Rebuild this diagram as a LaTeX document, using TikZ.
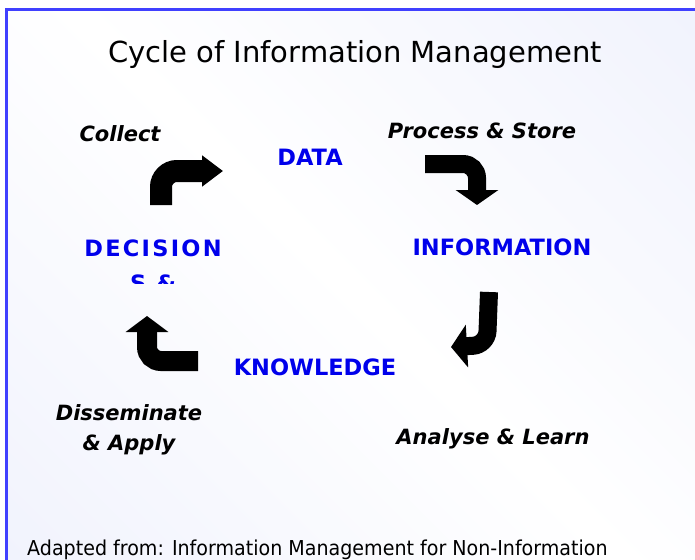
\documentclass[tikz,border=0pt]{standalone}
\usepackage{fontspec}
\setmainfont{DejaVu Sans}
\newfontfamily\narrowfont[FakeStretch=0.93]{DejaVu Sans}
\newfontfamily\spacedfont[LetterSpace=10]{DejaVu Sans}
\usetikzlibrary{arrows.meta}

\definecolor{framecol}{RGB}{64,64,255}
\definecolor{stagecol}{RGB}{0,0,235}
\definecolor{bgblue}{RGB}{234,237,252}
\pgfdeclarehorizontalshading{diagband}{100bp}{color(0bp)=(bgblue); color(50bp)=(white); color(100bp)=(bgblue)}

\tikzset{
  stage/.style={text=stagecol, font=\fontsize{22.5}{28}\selectfont\bfseries, inner sep=0pt},
  action/.style={font=\fontsize{21}{30}\selectfont\bfseries\itshape, inner sep=0pt, align=center},
  bigarrow/.style 2 args={line width=20pt, rounded corners=14pt, -{Triangle[length=#1,width=#2]}}
}

\begin{document}
\begin{tikzpicture}[x=1pt,y=-1pt]
    \useasboundingbox (0,0) rectangle (695,559);
    \clip (0,0) rectangle (695,559);
    % slide background and frame
    \shade[shading=diagband, shading angle=45] (6,10) rectangle (730,600);
    \draw[framecol, line width=3pt] (6,600) -- (6,10) -- (730,10);
    \node[font=\fontsize{29}{34}\selectfont] (title) at (355,55) {Cycle of Information Management};

    % stages
    \node[stage] (data) at (310,157) {DATA};
    \node[stage] (info) at (502,247) {INFORMATION};
    \node[stage] (know) at (315,367) {KNOWLEDGE};
    \begin{scope}
        \clip (0,0) rectangle (695,283);
        \node[stage, font=\spacedfont\fontsize{22.5}{35}\selectfont\bfseries, align=center, anchor=north]
            (decide) at (153,240) {DECISION\\S \&};
    \end{scope}

    % actions
    \node[action] (collect) at (120,134) {Collect};
    \node[action] (store) at (482,131) {Process \& Store};
    \node[action] (learn) at (493,439) {Analyse \& Learn};
    \node[action] (apply) at (129,430) {Disseminate\\\& Apply};

    % turning arrows
    \draw[bigarrow={21pt}{30pt}, line width=22pt, rounded corners=16pt] (161,205) -- (161,171) -- (223,171);
    \draw[bigarrow={15pt}{42pt}, line width=18pt] (425,164) -- (477,164) -- (477,205);
    \draw[bigarrow={16pt}{42pt}, line width=18pt] (489,292) -- (487,345) -- (451,347);
    \draw[bigarrow={16pt}{42pt}] (198,361) -- (147,361) -- (147,316);

    \node[font=\narrowfont\fontsize{20.5}{25}\selectfont, anchor=north west, inner sep=0pt] (source) at (27,540)
        {Adapted from: Information Management for Non-Information};
\end{tikzpicture}
\end{document}
